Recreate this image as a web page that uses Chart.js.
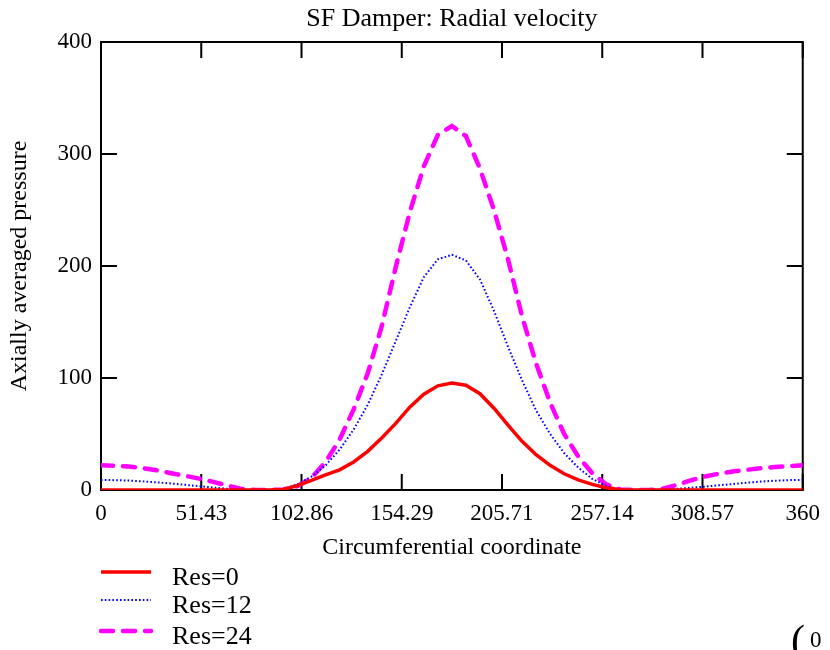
<!DOCTYPE html>
<html><head><meta charset="utf-8">
<script src="https://cdn.jsdelivr.net/npm/chart.js@4.4.1/dist/chart.umd.min.js"></script>
<style>html,body{margin:0;padding:0;background:#fff}canvas{display:block}</style>
</head><body>
<canvas id="c" width="830" height="650"></canvas>
<script>
// ---- data ----
const theta = [0, 7.2, 14.4, 21.6, 28.8, 36, 43.2, 50.4, 57.6, 64.8, 72, 79.2, 86.4,
  93.6, 100.8, 108, 115.2, 122.4, 129.6, 136.8, 144, 151.2, 158.4, 165.6, 172.8, 180,
  187.2, 194.4, 201.6, 208.8, 216, 223.2, 230.4, 237.6, 244.8, 252, 259.2, 266.4,
  273.6, 280.8, 288, 295.2, 302.4, 309.6, 316.8, 324, 331.2, 338.4, 345.6, 352.8, 360];
const res0 = [0, 0, 0, 0, 0, 0, 0, 0, 0, 0, 0, 0, 0,
  0.5, 4, 8.5, 13.5, 18, 25, 34.5, 46.5, 59.5, 74, 85.5, 93, 95.5,
  93.5, 86, 73, 58, 43.5, 31.5, 22, 14.5, 9, 5, 2, 0.3,
  0, 0, 0, 0, 0, 0, 0, 0, 0, 0, 0, 0, 0];
const res12 = [9, 8.8, 8.4, 7.7, 6.8, 5.8, 4.6, 3.4, 2.2, 1.1, 0.3, 0, 0,
  1, 5, 12, 22, 36, 54, 76, 103, 133, 163, 190, 206, 210,
  205, 188, 160, 128, 98, 71, 50, 33, 20, 10, 3.5, 0.5,
  0, 0, 0.3, 1, 2, 3, 4.2, 5.3, 6.5, 7.5, 8.3, 8.8, 9];
const res24 = [22, 21.7, 21, 19.5, 17.5, 15, 12.7, 10.2, 7.2, 4, 1, 0, 0,
  0.5, 3.5, 11, 25, 45, 72, 104, 146, 199, 248, 289, 317, 325,
  316, 287, 250, 206, 155, 113, 78, 50, 30, 15, 5, 0.5,
  0, 0, 1, 4.5, 8.5, 12, 14.5, 16.5, 18, 19.5, 20.5, 21.3, 22];
const seriesNames = ['Res=0', 'Res=12', 'Res=24'];
const xTickValues = [0, 51.43, 102.86, 154.29, 205.71, 257.14, 308.57, 360];
const xTickLabels = ['0', '51.43', '102.86', '154.29', '205.71', '257.14', '308.57', '360'];
const yTickValues = [0, 100, 200, 300, 400];
const yTickLabels = ['0', '100', '200', '300', '400'];

// ---- style ----
const SERIF = '"Liberation Serif", "Times New Roman", serif';
const styles = [
  {color: '#ff0000', width: 3.5, dash: [], cap: 'butt'},
  {color: '#0000ff', width: 2, dash: [1.6, 2.2], cap: 'butt'},
  {color: '#ff00ff', width: 4.5, dash: [12, 10], cap: 'round'}
];
const seriesValues = [res0, res12, res24];

const datasets = seriesValues.map((vals, i) => ({
  label: seriesNames[i],
  data: theta.map((t, k) => ({x: t, y: vals[k]})),
  borderColor: styles[i].color,
  backgroundColor: styles[i].color,
  borderWidth: styles[i].width,
  borderDash: styles[i].dash,
  borderCapStyle: styles[i].cap,
  pointRadius: 0,
  tension: 0,
  fill: false
}));

const framePlugin = {
  id: 'frame',
  beforeDatasetsDraw(chart) {
    const {ctx, chartArea: a, scales: {x, y}} = chart;
    ctx.save();
    ctx.strokeStyle = '#000';
    ctx.lineWidth = 2;
    ctx.setLineDash([]);
    ctx.strokeRect(a.left, a.top, a.right - a.left, a.bottom - a.top);
    const TL = 16;
    ctx.beginPath();
    xTickValues.forEach(v => {
      const px = x.getPixelForValue(v);
      ctx.moveTo(px, a.bottom); ctx.lineTo(px, a.bottom - TL);
      ctx.moveTo(px, a.top); ctx.lineTo(px, a.top + TL);
    });
    yTickValues.forEach(v => {
      const py = y.getPixelForValue(v);
      ctx.moveTo(a.left, py); ctx.lineTo(a.left + TL, py);
      ctx.moveTo(a.right, py); ctx.lineTo(a.right - TL, py);
    });
    ctx.stroke();
    ctx.restore();
  },
  afterDraw(chart) {
    const {ctx} = chart;
    ctx.save();
    const lineY = [572, 600, 631];
    const textY = [585, 613, 644];
    chart.data.datasets.forEach((ds, i) => {
      ctx.strokeStyle = ds.borderColor;
      ctx.lineWidth = ds.borderWidth;
      ctx.setLineDash(ds.borderDash);
      ctx.lineCap = ds.borderCapStyle;
      ctx.beginPath();
      ctx.moveTo(101, lineY[i]);
      ctx.lineTo(151, lineY[i]);
      ctx.stroke();
      ctx.setLineDash([]);
      ctx.fillStyle = '#000';
      ctx.font = '26px ' + SERIF;
      ctx.textAlign = 'left';
      ctx.textBaseline = 'alphabetic';
      ctx.fillText(ds.label, 172, textY[i]);
    });
    ctx.font = '42px ' + SERIF;
    ctx.fillText('(', 791, 654);
    ctx.font = '23px ' + SERIF;
    ctx.fillText('0', 810, 647);
    ctx.restore();
  }
};

new Chart(document.getElementById('c'), {
  type: 'line',
  data: {datasets},
  plugins: [framePlugin],
  options: {
    responsive: false,
    animation: false,
    layout: {padding: {left: 0, right: 24, top: 0, bottom: 0}},
    plugins: {
      legend: {display: false},
      tooltip: {enabled: false},
      title: {
        display: true,
        text: 'SF Damper: Radial velocity',
        fullSize: false,
        color: '#000',
        font: {family: SERIF, size: 26, weight: 'normal', lineHeight: 1.2},
        padding: {top: 3.6, bottom: 7.2}
      }
    },
    scales: {
      x: {
        type: 'linear', min: 0, max: 360,
        afterBuildTicks: s => { s.ticks = xTickValues.map(v => ({value: v})); },
        afterFit: s => { s.height = 160; },
        ticks: {
          callback: (v, i) => xTickLabels[i],
          color: '#000', font: {family: SERIF, size: 23}, padding: 10,
          maxRotation: 0, autoSkip: false
        },
        grid: {display: false, drawTicks: false},
        border: {display: false},
        title: {
          display: true, text: 'Circumferential coordinate', color: '#000',
          font: {family: SERIF, size: 24, lineHeight: 1.2},
          padding: {top: 0, bottom: 87.6}
        }
      },
      y: {
        type: 'linear', min: 0, max: 400,
        afterBuildTicks: s => { s.ticks = yTickValues.map(v => ({value: v})); },
        afterFit: s => { s.width = 101; },
        ticks: {
          callback: (v, i) => yTickLabels[i],
          color: '#000', font: {family: SERIF, size: 23}, padding: 9
        },
        grid: {display: false, drawTicks: false},
        border: {display: false},
        title: {
          display: true, text: 'Axially averaged pressure', color: '#000',
          font: {family: SERIF, size: 24, lineHeight: 1.2},
          padding: {top: 5.6, bottom: 0}
        }
      }
    }
  }
});
</script>
</body></html>
